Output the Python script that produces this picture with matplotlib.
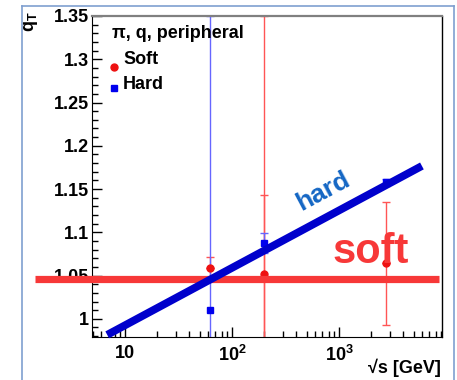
import matplotlib
matplotlib.use('Agg')
import matplotlib.pyplot as plt
from matplotlib.lines import Line2D
from matplotlib.ticker import FixedLocator, NullFormatter, LogLocator

plt.rcParams['font.family'] = ['Liberation Sans', 'DejaVu Sans']
plt.rcParams['mathtext.fontset'] = 'custom'
plt.rcParams['mathtext.rm'] = 'Liberation Sans:bold'
plt.rcParams['mathtext.bf'] = 'Liberation Sans:bold'
plt.rcParams['mathtext.it'] = 'Liberation Sans:bold'

# collision energies (GeV)
sqrt_s = [62.4, 200, 2760]
# soft component q values and errors
soft_q = [1.059, 1.052, 1.064]
soft_err = [0.0127, 0.091, 0.0715]
# large error for the 200 GeV soft point (runs to the frame)
soft_err_big = [0.0, 0.298, 0.0]
# hard component q values and errors
hard_q = [1.0104, 1.0877, 1.158]
hard_err = [0.3396, 0.0113, 0.004]

# fit lines
soft_fit_x = [1.44, 8600]
soft_fit_q = [1.0455, 1.0455]
hard_fit_x = [6.8, 5970]
hard_fit_q = [0.9815, 1.1767]

xticks = [10, 100, 1000]
xticklabels = ["10", "$10^2$", "$10^3$"]

W, H, dpi = 457, 380, 100
fig = plt.figure(figsize=(W / dpi, H / dpi), dpi=dpi)

# slide style border
border = '#7f9fcf'
fig.add_artist(Line2D([22 / W, 22 / W], [0, 1 - 6 / H], color=border, lw=1.2))
fig.add_artist(Line2D([22 / W, 454 / W], [1 - 6 / H, 1 - 6 / H], color=border, lw=1.2))
fig.add_artist(Line2D([454 / W, 454 / W], [0, 1 - 6 / H], color=border, lw=1.2))

ax = fig.add_axes([92 / W, 1 - 337 / H, 350 / W, 321 / H])
ax.set_xscale('log')
ax.set_xlim(4.9, 9200)
ax.set_ylim(0.979, 1.35)

# data points
ax.errorbar(sqrt_s, soft_q, yerr=soft_err_big, fmt='none', ecolor='#ff5555', elinewidth=1.0,
            capsize=3, capthick=1.0, zorder=2)
ax.errorbar(sqrt_s, soft_q, yerr=soft_err, fmt='o', color='#ee1111', ms=5, ecolor='#ff5555',
            elinewidth=1.0, capsize=3, capthick=1.0, zorder=2)
ax.errorbar(sqrt_s, hard_q, yerr=hard_err, fmt='s', color='#0000ee', ms=5, ecolor='#6666ff',
            elinewidth=1.0, capsize=3, capthick=1.0, zorder=2)

# fit lines
ax.plot(soft_fit_x, soft_fit_q, color='#f73838', lw=5.2, solid_capstyle='butt', clip_on=False, zorder=4)
ax.plot(hard_fit_x, hard_fit_q, color='#0000cc', lw=5.6, solid_capstyle='butt', clip_on=False, zorder=5)

ax.text(708, 1.1467, "hard", color='#1466c4', fontsize=19, fontweight='bold', rotation=28,
        ha='center', va='center', rotation_mode='anchor', zorder=6)
ax.text(861, 1.0647, "soft", color='#f73838', fontsize=30, fontweight='bold', ha='left', va='baseline', zorder=6)

# legend
ax.text(0.057, 0.947, "\u03c0, q, peripheral", transform=ax.transAxes, fontsize=13, fontweight='bold',
        ha='left', va='center')
ax.plot([0.063], [0.84], 'o', color='#ee1111', ms=5, transform=ax.transAxes, clip_on=False)
ax.text(0.089, 0.863, "Soft", transform=ax.transAxes, fontsize=13, fontweight='bold', ha='left', va='center')
ax.plot([0.063], [0.776], 's', color='#0000ee', ms=5, transform=ax.transAxes, clip_on=False)
ax.text(0.089, 0.788, "Hard", transform=ax.transAxes, fontsize=13, fontweight='bold', ha='left', va='center')

# axes style
ax.xaxis.set_major_locator(FixedLocator(xticks))
ax.set_xticklabels(xticklabels)
ax.xaxis.set_minor_locator(LogLocator(base=10, subs=range(2, 10)))
ax.xaxis.set_minor_formatter(NullFormatter())
ax.set_yticks([1.0, 1.05, 1.1, 1.15, 1.2, 1.25, 1.3, 1.35])
ax.set_yticklabels(["1", "1.05", "1.1", "1.15", "1.2", "1.25", "1.3", "1.35"])
ax.set_yticks([0.98 + 0.01 * i for i in range(38)], minor=True)
ax.tick_params(axis='both', which='major', direction='in', length=7.5, width=1.0, labelsize=13)
ax.tick_params(axis='both', which='minor', direction='in', length=4, width=1.0)
ax.tick_params(top=False, right=False, which='both')
ax.tick_params(axis='x', pad=6)
ax.tick_params(axis='y', pad=2)
for lab in ax.get_xticklabels() + ax.get_yticklabels():
    lab.set_fontweight('bold')
ax.spines['top'].set_color('#808080')
ax.spines['top'].set_linewidth(1.6)
ax.spines['right'].set_linewidth(1.0)

fig.text(441 / W, 1 - 368 / H, "\u221as [GeV]", fontsize=13, fontweight='bold', ha='right', va='center')
fig.text(31 / W, 1 - 22 / H, "q$_{T}$", fontsize=13, fontweight='bold', rotation=90, ha='center', va='center')

fig.savefig('out.png', dpi=dpi)
